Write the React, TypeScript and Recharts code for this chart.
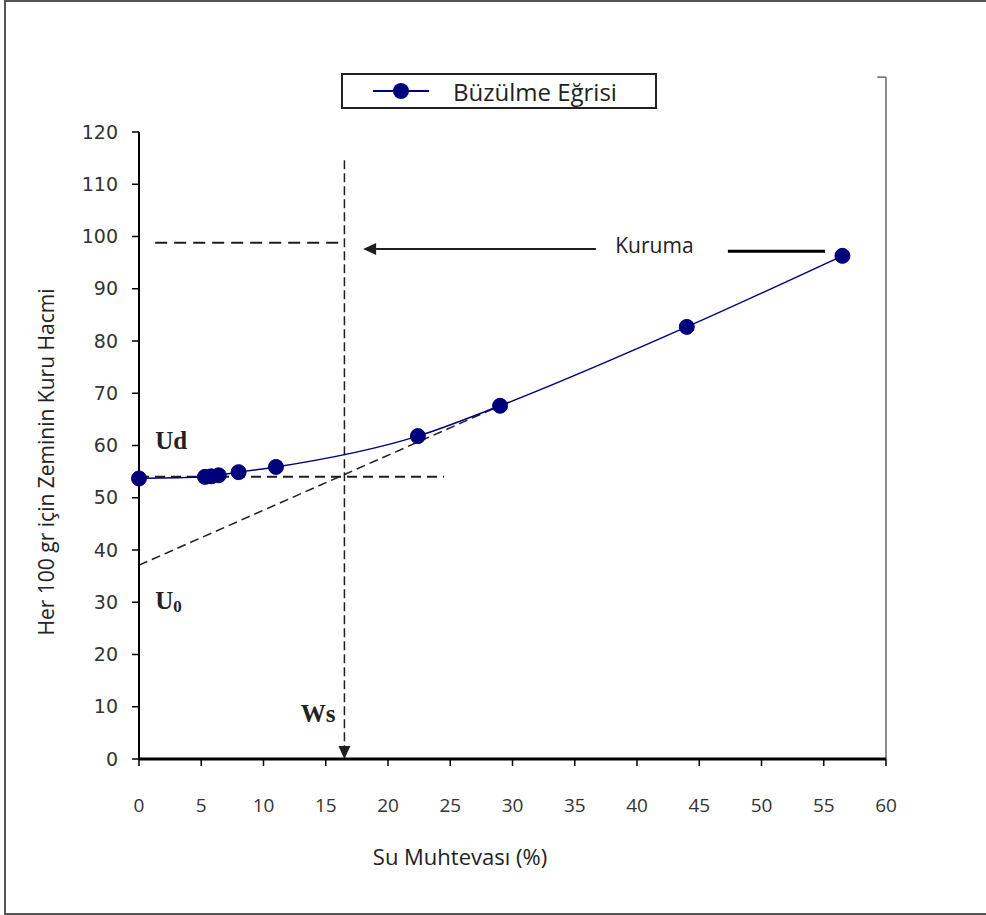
import {
  ComposedChart,
  Legend,
  Line,
  ReferenceDot,
  ReferenceLine,
  XAxis,
  YAxis,
} from "recharts";

// shrinkage curve readings
const waterContent = [0, 5.3, 5.8, 6.4, 8.0, 11.0, 22.4, 29.0, 44.0, 56.5];
const dryVolume = [53.7, 54.0, 54.1, 54.3, 54.9, 55.9, 61.8, 67.6, 82.7, 96.3];

const xTicks = [0, 5, 10, 15, 20, 25, 30, 35, 40, 45, 50, 55, 60];
const yTicks = [0, 10, 20, 30, 40, 50, 60, 70, 80, 90, 100, 110, 120];

// construction lines
const wsX = 16.5;
const wsTop = 114.6;
const udLevel = 54.0;
const udEnd = 24.5;
const u0Start = 37.1;
const tangentEnd = { x: 29.0, y: 67.6 };
const topGuide = { from: 1.3, to: 16.5, y: 98.8 };
const dryingArrow = { from: 36.7, to: 18.0, y: 97.6 };
const dryingBar = { from: 47.3, to: 55.1, y: 97.2 };

const data = waterContent.map((w, i) => ({ w, v: dryVolume[i] }));

const NAVY = "#00007a";
const INK = "#1e1e1e";

const arrowLine =
  (dash: string | undefined, width: number, head: "end" | "none") =>
  (props: any) => {
    const { x1, y1, x2, y2 } = props;
    const dx = x2 - x1;
    const dy = y2 - y1;
    const len = Math.sqrt(dx * dx + dy * dy) || 1;
    const ux = dx / len;
    const uy = dy / len;
    const hl = 13;
    const hw = 6;
    const bx = x2 - ux * hl;
    const by = y2 - uy * hl;
    return (
      <g>
        <line
          x1={x1}
          y1={y1}
          x2={head === "end" ? bx : x2}
          y2={head === "end" ? by : y2}
          stroke={INK}
          strokeWidth={width}
          strokeDasharray={dash}
        />
        {head === "end" && (
          <polygon
            points={`${x2},${y2} ${bx - uy * hw},${by + ux * hw} ${bx + uy * hw},${by - ux * hw}`}
            fill={INK}
          />
        )}
      </g>
    );
  };

const textAt =
  (content: React.ReactNode, style: React.CSSProperties, anchor = "start") =>
  (props: any) => (
    <text
      x={props.cx}
      y={props.cy}
      textAnchor={anchor}
      dominantBaseline="central"
      style={style}
    >
      {content}
    </text>
  );

const serifBold: React.CSSProperties = {
  fontFamily: "Liberation Serif",
  fontWeight: 700,
  fontSize: 25,
  fill: "#222",
};

const XTick = (props: any) => {
  const { x, y, payload } = props;
  return (
    <text
      x={x}
      y={y + 26}
      textAnchor="middle"
      style={{ fontFamily: "Open Sans", fontSize: 19, fill: "#333" }}
    >
      {payload.value}
    </text>
  );
};

const LegendBox = () => (
  <div
    style={{
      width: 312,
      height: 32,
      border: "2px solid #222",
      background: "#fff",
      position: "relative",
    }}
  >
    <svg width={312} height={32} style={{ position: "absolute", left: 0, top: 0 }}>
      <line x1={30} y1={16} x2={86} y2={16} stroke={NAVY} strokeWidth={2} />
      <circle cx={58} cy={16} r={8} fill={NAVY} />
      <text
        x={110}
        y={16}
        dominantBaseline="central"
        style={{ fontFamily: "Open Sans", fontSize: 24, fill: "#222" }}
      >
        Büzülme Eğrisi
      </text>
    </svg>
  </div>
);

export default function App() {
  return (
    <div
      style={{
        position: "absolute",
        left: 0,
        top: 0,
        width: 986,
        height: 915,
        background: "#fff",
        overflow: "hidden",
      }}
    >
      <div
        style={{
          position: "absolute",
          left: 4,
          top: 0,
          width: 1000,
          height: 911,
          borderLeft: "2px solid #555",
          borderTop: "2px solid #555",
          borderBottom: "2px solid #555",
        }}
      />
      <ComposedChart
        width={986}
        height={915}
        data={data}
        margin={{ top: 132, right: 100, bottom: 96, left: 79 }}
        style={{ position: "absolute", left: 0, top: 0 }}
      >
        <XAxis
          dataKey="w"
          type="number"
          domain={[0, 60]}
          ticks={xTicks}
          interval={0}
          height={60}
          axisLine={{ stroke: "#000", strokeWidth: 3 }}
          tickLine={{ stroke: "#000", strokeWidth: 1.5 }}
          tickSize={7}
          tickMargin={20}
          tick={<XTick />}
          label={{
            content: () => (
              <text
                x={460}
                y={856}
                textAnchor="middle"
                dominantBaseline="central"
                style={{ fontFamily: "Open Sans", fontSize: 22, fill: "#222" }}
              >
                Su Muhtevası (%)
              </text>
            ),
          }}
        />
        <YAxis
          type="number"
          domain={[0, 120]}
          ticks={yTicks}
          interval={0}
          width={60}
          axisLine={{ stroke: "#000", strokeWidth: 2 }}
          tickLine={{ stroke: "#000", strokeWidth: 1.5 }}
          tickSize={7}
          tickMargin={14}
          tick={{ fontFamily: "DejaVu Sans", fontSize: 19, fill: "#333" }}
          label={{
            content: () => (
              <text
                x={46}
                y={462}
                textAnchor="middle"
                dominantBaseline="central"
                transform="rotate(-90 46 462)"
                style={{ fontFamily: "Open Sans", fontSize: 21, fill: "#222" }}
              >
                Her 100 gr için Zeminin Kuru Hacmi
              </text>
            ),
          }}
        />
        <Legend
          layout="horizontal"
          verticalAlign="middle"
          align="center"
          wrapperStyle={{ top: 73, left: 341, width: 316, height: 36 }}
          content={() => <LegendBox />}
        />

        {/* plot area right edge */}
        <ReferenceLine
          segment={[
            { x: 60, y: 0 },
            { x: 60, y: 130.5 },
          ]}
          stroke="#666"
          strokeWidth={1.5}
          ifOverflow="visible"
        />
        <ReferenceLine
          segment={[
            { x: 59.3, y: 130.5 },
            { x: 60, y: 130.5 },
          ]}
          stroke="#666"
          strokeWidth={1.5}
          ifOverflow="visible"
        />

        {/* Ud level */}
        <ReferenceLine
          segment={[
            { x: 0, y: udLevel },
            { x: udEnd, y: udLevel },
          ]}
          stroke={INK}
          strokeWidth={2}
          strokeDasharray="10 6"
        />
        {/* tangent down to U0 */}
        <ReferenceLine
          segment={[
            { x: 0, y: u0Start },
            { x: tangentEnd.x, y: tangentEnd.y },
          ]}
          stroke={INK}
          strokeWidth={1.5}
          strokeDasharray="9 5"
        />
        {/* upper guide */}
        <ReferenceLine
          segment={[
            { x: topGuide.from, y: topGuide.y },
            { x: topGuide.to, y: topGuide.y },
          ]}
          stroke={INK}
          strokeWidth={2}
          strokeDasharray="12 7"
        />
        {/* Ws drop line */}
        <ReferenceLine
          segment={[
            { x: wsX, y: wsTop },
            { x: wsX, y: 0 },
          ]}
          shape={arrowLine("9 4", 1.5, "end")}
        />
        {/* drying direction */}
        <ReferenceLine
          segment={[
            { x: dryingArrow.from, y: dryingArrow.y },
            { x: dryingArrow.to, y: dryingArrow.y },
          ]}
          shape={arrowLine(undefined, 2, "end")}
        />
        <ReferenceLine
          segment={[
            { x: dryingBar.from, y: dryingBar.y },
            { x: dryingBar.to, y: dryingBar.y },
          ]}
          stroke="#000"
          strokeWidth={3}
        />

        <Line
          type="monotone"
          dataKey="v"
          stroke={NAVY}
          strokeWidth={1.5}
          dot={{ r: 7.5, fill: NAVY, stroke: NAVY, strokeWidth: 1 }}
          isAnimationActive={false}
          legendType="circle"
        />

        <ReferenceDot
          x={1.3}
          y={60.9}
          shape={textAt("Ud", serifBold)}
        />
        <ReferenceDot
          x={1.3}
          y={30.4}
          shape={textAt(
            <>
              U<tspan fontSize={17} dy={6}>0</tspan>
            </>,
            serifBold
          )}
        />
        <ReferenceDot
          x={13.0}
          y={8.8}
          shape={textAt("Ws", serifBold)}
        />
        <ReferenceDot
          x={41.4}
          y={98.3}
          shape={textAt(
            "Kuruma",
            { fontFamily: "Open Sans", fontSize: 21, fill: "#222" },
            "middle"
          )}
        />
      </ComposedChart>
    </div>
  );
}
